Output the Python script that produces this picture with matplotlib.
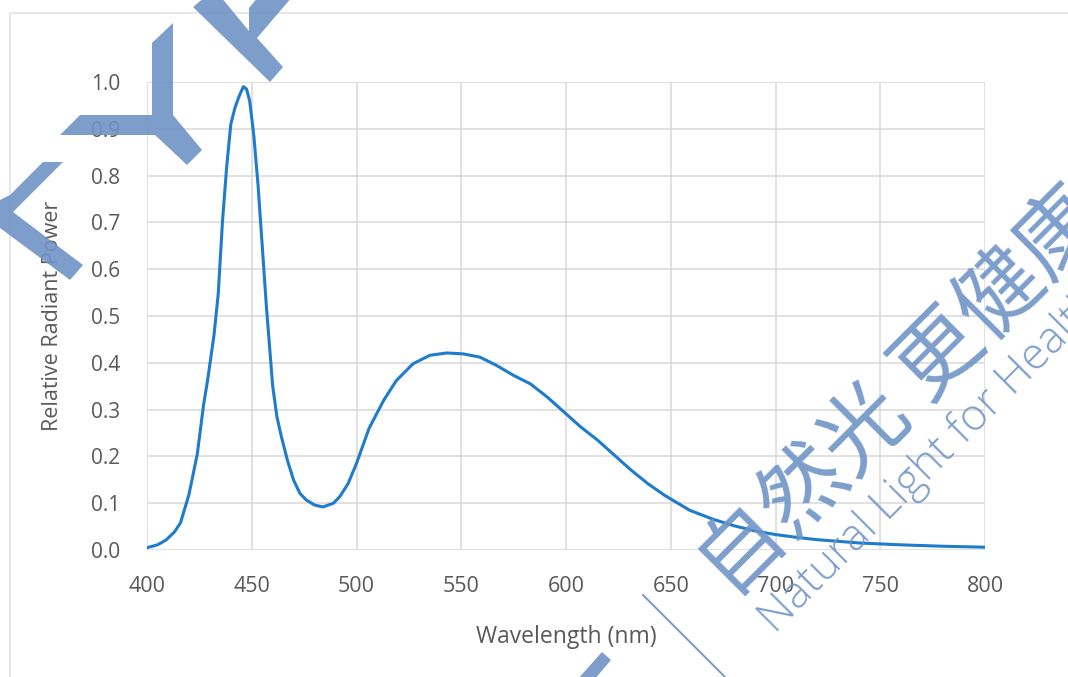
#!/usr/bin/env python3
# -*- coding: utf-8 -*-
import matplotlib
matplotlib.use('Agg')
import matplotlib.pyplot as plt
from matplotlib.patches import Polygon
from matplotlib.lines import Line2D
from matplotlib.transforms import Affine2D

# spectrum
wavelength = [400, 405, 409, 413, 416, 420, 424, 427, 429, 432, 434, 436, 438, 440,
              442, 444, 446, 447.5, 449, 451, 453, 455, 457, 460, 462, 464, 467, 470,
              473, 476, 480, 484, 489, 492, 496, 500, 506, 513, 519, 527, 535, 543,
              551, 559, 567, 575, 583, 591, 599, 607, 615, 623, 631, 639, 647, 659,
              670, 680, 690, 700, 710, 720, 740, 760, 780, 800]
power = [0.005, 0.011, 0.021, 0.038, 0.058, 0.118, 0.205, 0.31, 0.365, 0.46, 0.547,
         0.70, 0.817, 0.91, 0.945, 0.97, 0.99, 0.985, 0.96, 0.885, 0.78, 0.65, 0.52,
         0.35, 0.285, 0.245, 0.192, 0.149, 0.121, 0.107, 0.096, 0.092, 0.100, 0.114,
         0.142, 0.185, 0.26, 0.32, 0.362, 0.398, 0.416, 0.421, 0.419, 0.412, 0.394,
         0.373, 0.355, 0.327, 0.295, 0.263, 0.235, 0.203, 0.171, 0.142, 0.117, 0.085,
         0.066, 0.052, 0.041, 0.033, 0.027, 0.022, 0.015, 0.011, 0.008, 0.006]

x_ticks = [400, 450, 500, 550, 600, 650, 700, 750, 800]
y_ticks = [0.0, 0.1, 0.2, 0.3, 0.4, 0.5, 0.6, 0.7, 0.8, 0.9, 1.0]

W, H = 1068, 677
TXT = '#595959'
GRID = '#d9d9d9'
MARK = '#6f94c6'

plt.rcParams['font.family'] = ['Open Sans', 'DejaVu Sans']

fig = plt.figure(figsize=(W / 100, H / 100), dpi=100)
ax = fig.add_axes([147 / W, 1 - 550 / H, 838 / W, 468 / H])

ax.plot(wavelength, power, color='#1f7bcb', lw=2.2, solid_capstyle='round', zorder=3)

ax.set_xlim(400, 800)
ax.set_ylim(0, 1.0)
ax.set_xticks(x_ticks)
ax.set_yticks(y_ticks)
ax.set_yticklabels([f'{v:.1f}' for v in y_ticks])
ax.grid(True, color=GRID, lw=1.1)
ax.set_axisbelow(True)
for s in ax.spines.values():
    s.set_visible(False)
ax.tick_params(length=0, labelsize=15, labelcolor=TXT)
ax.tick_params(axis='x', pad=19, labelsize=15.5)
ax.tick_params(axis='y', pad=19)
ax.set_xlabel('Wavelength (nm)', fontsize=16.5, color=TXT, labelpad=20)
ax.set_ylabel('Relative Radiant Power', fontsize=15.5, color=TXT)
ax.yaxis.set_label_coords(-84 / 838, 0.5)

# pixel coordinates of the reference -> figure coordinates
px = Affine2D().scale(1 / W, -1 / H).translate(0, 1) + fig.transFigure

# chart outer frame
fig.add_artist(Line2D([10, 10, W + 5], [H + 5, 13, 13], color='#e3e3e3', lw=1.2, transform=px))

# watermark logo pieces
shapes = [
    [(152, 43), (173, 23), (173, 115), (202, 150), (187, 165), (155, 135),
     (60, 135), (80, 115), (152, 115)],
    [(193, 7), (205, -3), (221, -3), (249, 31), (249, 8), (258, -3), (292, -3),
     (257, 38), (283, 67), (270, 82)],
    [(43, 162), (63, 162), (13, 212), (83, 265), (70, 280), (0, 228), (0, 200), (10, 195)],
    [(577, 680), (602, 652), (611, 660), (594, 680)],
]
for pts in shapes:
    fig.add_artist(Polygon(pts, closed=True, facecolor=MARK, edgecolor='none',
                           alpha=0.9, transform=px, zorder=5))
fig.add_artist(Line2D([643, 727], [595, 679], color=MARK, lw=1.3, transform=px, zorder=5))

fig.text(745 / W, 1 - 615 / H, '自然光 更健康', rotation=45, rotation_mode='anchor',
         ha='left', va='bottom', fontsize=62, color=MARK, alpha=0.9,
         family=['Noto Sans CJK SC', 'DejaVu Sans'], fontweight='light', zorder=5)
fig.text(783 / W, 1 - 642 / H, 'Natural Light for Health', rotation=45,
         rotation_mode='anchor', ha='left', va='bottom', fontsize=32, color=MARK,
         alpha=0.9, family=['Open Sans', 'DejaVu Sans'], fontweight='light', zorder=5)

fig.savefig('out.png', dpi=100)
